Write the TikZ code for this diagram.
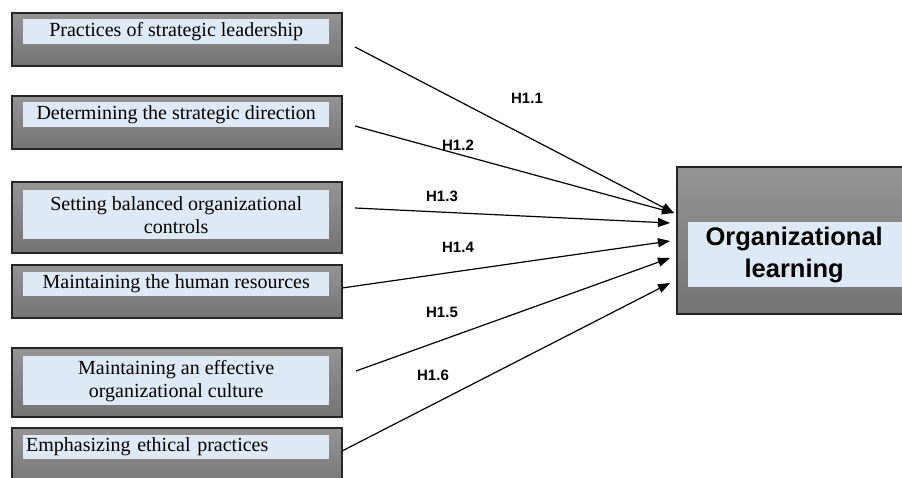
\documentclass[tikz,border=0pt]{standalone}
\usepackage{fontspec}
\setmainfont{Liberation Serif}
\newfontfamily\arialfont{Liberation Sans}
\usetikzlibrary{arrows.meta}
\definecolor{boxtop}{RGB}{148,148,148}
\definecolor{boxbot}{RGB}{116,116,116}
\definecolor{innerblue}{RGB}{222,233,246}
\tikzset{
  outerbox/.style={draw=black!85, line width=1.6pt, top color=boxtop, bottom color=boxbot, inner sep=0pt, anchor=north west},
  innerbox/.style={fill=innerblue, inner sep=0pt, anchor=north west, align=center, font=\fontsize{20}{23}\selectfont},
  hlabel/.style={font=\arialfont\bfseries\fontsize{15}{16}\selectfont, inner sep=0pt},
  conn/.style={line width=1.2pt, -{Triangle[length=12pt,width=9pt]}}
}
\begin{document}
\begin{tikzpicture}[x=1pt,y=-1pt]
\useasboundingbox (0,0) rectangle (902,477);
\clip (0,0) rectangle (902,477);
\fill[white] (0,0) rectangle (902,477);
% left boxes
\node[outerbox, minimum width=330pt, minimum height=53pt] (o1) at (11,12) {};
\node[innerbox, minimum width=306pt, minimum height=25pt] (t1) at (23,19) {Practices of strategic leadership};
\node[outerbox, minimum width=330pt, minimum height=53pt] (o2) at (11,95) {};
\node[innerbox, minimum width=306pt, minimum height=25pt] (t2) at (23,102) {Determining the strategic direction};
\node[outerbox, minimum width=330pt, minimum height=71pt] (o3) at (11,181) {};
\node[innerbox, minimum width=306pt, minimum height=49pt] (t3) at (23,190) {Setting balanced organizational\\controls};
\node[outerbox, minimum width=330pt, minimum height=53pt] (o4) at (11,264) {};
\node[innerbox, minimum width=306pt, minimum height=24pt] (t4) at (23,272) {Maintaining the human resources};
\node[outerbox, minimum width=330pt, minimum height=69pt] (o5) at (11,347) {};
\node[innerbox, minimum width=306pt, minimum height=49pt] (t5) at (23,356) {Maintaining an effective\\organizational culture};
\node[outerbox, minimum width=330pt, minimum height=63pt] (o6) at (11,427) {};
\node[innerbox, minimum width=306pt, minimum height=24pt, text width=304pt, align=left] (t6) at (23,435) {\hspace*{2pt}Emphasizing ethical practices};
% right box
\node[outerbox, minimum width=240pt, minimum height=147pt] (or) at (676,166) {};
\node[innerbox, minimum width=230pt, minimum height=65pt, text width=230pt, font=\arialfont\bfseries\fontsize{25.5}{32}\selectfont] (tr) at (688,222) {\hspace*{-18pt}Organizational\\\hspace*{-18pt}learning};
% connector endpoints
\coordinate (s1) at (355,47);
\coordinate (s2) at (355,126);
\coordinate (s3) at (355,208);
\coordinate (s4) at (342,288);
\coordinate (s5) at (356,371);
\coordinate (s6) at (342,451);
\coordinate (e1) at (674,213);
\coordinate (e2) at (674,213);
\coordinate (e3) at (670,223);
\coordinate (e4) at (670,241);
\coordinate (e5) at (670,258);
\coordinate (e6) at (670,283);
\draw[conn] (s1) -- (e1);
\draw[conn] (s2) -- (e2);
\draw[conn] (s3) -- (e3);
\draw[conn] (s4) -- (e4);
\draw[conn] (s5) -- (e5);
\draw[conn] (s6) -- (e6);
% labels
\node[hlabel] (h1) at (527,98) {H1.1};
\node[hlabel] (h2) at (458,145) {H1.2};
\node[hlabel] (h3) at (442,196) {H1.3};
\node[hlabel] (h4) at (458,247) {H1.4};
\node[hlabel] (h5) at (442,312) {H1.5};
\node[hlabel] (h6) at (433,375) {H1.6};
\end{tikzpicture}
\end{document}
